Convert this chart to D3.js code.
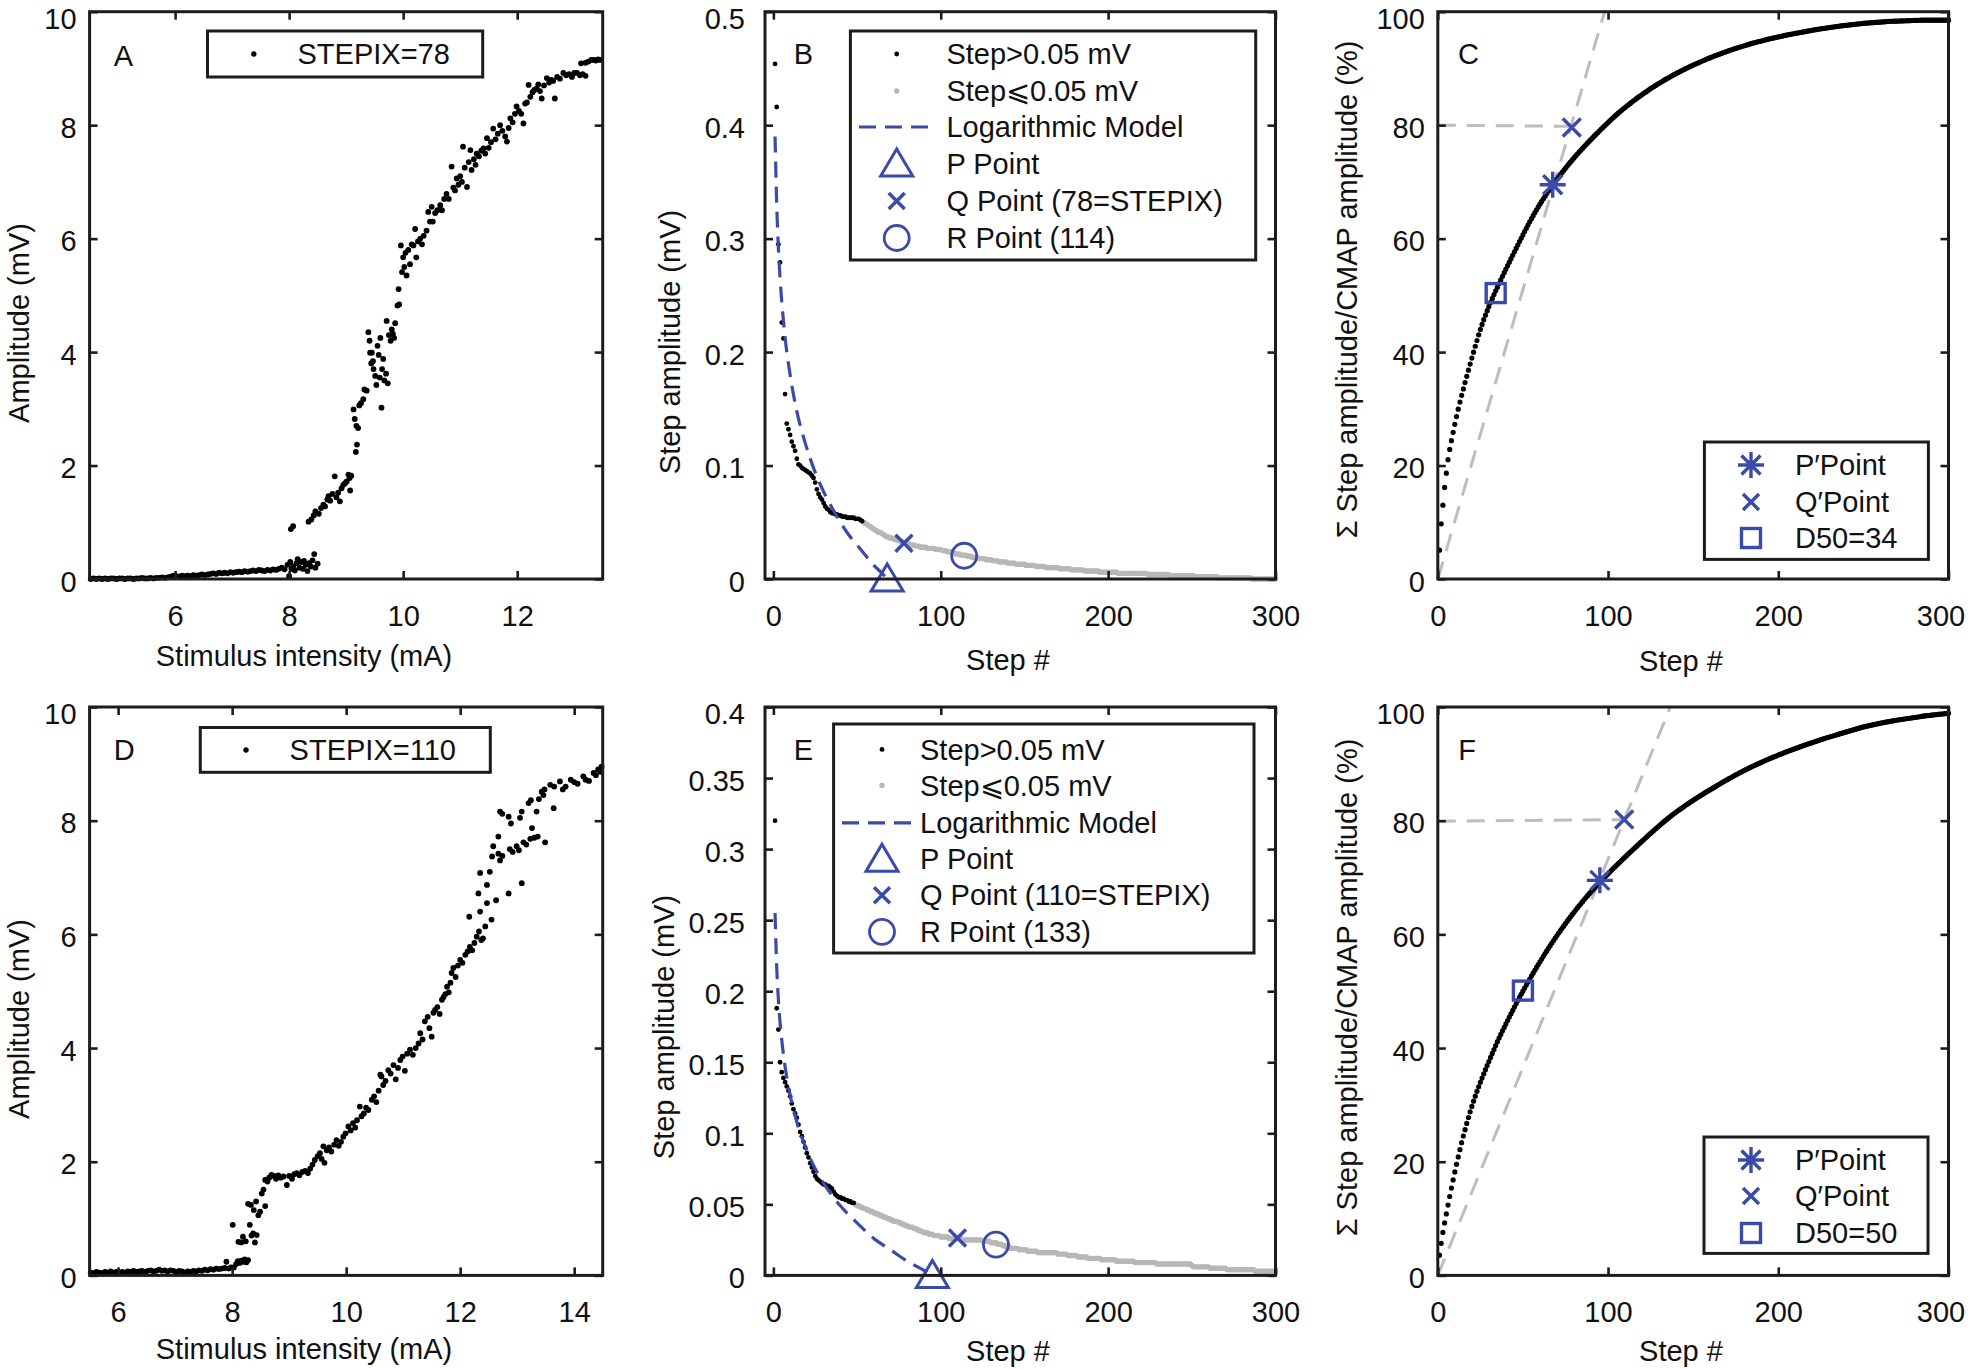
<!DOCTYPE html>
<html><head><meta charset="utf-8">
<script src="https://cdn.jsdelivr.net/npm/d3@7"></script>
<style>body{margin:0;background:#fff}</style>
</head><body>
<svg id="c" width="1969" height="1369" xmlns="http://www.w3.org/2000/svg"></svg>
<script>
// ---------------- DATA ----------------
const scatterA = [[4.52,0.00],[4.57,0.01],[4.62,0.00],[4.67,0.01],[4.72,0.00],[4.77,0.01],[4.82,0.00],[4.87,0.01],[4.92,0.01],[4.97,0.00],[5.02,0.01],[5.07,0.01],[5.12,0.00],[5.17,0.01],[5.22,0.01],[5.27,0.00],[5.32,0.01],[5.37,0.01],[5.42,0.02],[5.47,0.01],[5.52,0.01],[5.57,0.02],[5.62,0.01],[5.67,0.02],[5.72,0.02],[5.77,0.03],[5.82,0.02],[5.87,0.03],[5.92,0.04],[5.97,0.06],[6.02,0.05],[6.07,0.04],[6.12,0.06],[6.17,0.05],[6.22,0.06],[6.27,0.05],[6.32,0.07],[6.37,0.06],[6.42,0.07],[6.47,0.08],[6.52,0.07],[6.57,0.08],[6.62,0.09],[6.67,0.10],[6.72,0.09],[6.77,0.11],[6.82,0.10],[6.87,0.11],[6.92,0.10],[6.97,0.12],[7.02,0.11],[7.07,0.12],[7.12,0.13],[7.17,0.12],[7.22,0.14],[7.27,0.13],[7.32,0.14],[7.37,0.15],[7.42,0.14],[7.47,0.16],[7.52,0.15],[7.57,0.14],[7.62,0.16],[7.67,0.15],[7.72,0.17],[7.77,0.16],[7.82,0.18],[7.87,0.20],[7.92,0.17],[7.97,0.25],
[8.00,0.05],[8.02,0.30],[8.04,0.18],[8.07,0.22],[8.10,0.15],[8.13,0.28],[8.15,0.35],[8.18,0.20],[8.21,0.30],[8.24,0.18],[8.26,0.32],[8.29,0.25],[8.32,0.14],[8.35,0.28],[8.38,0.22],[8.41,0.33],[8.44,0.44],[8.46,0.20],[8.50,0.27],
[8.03,0.88],[8.07,0.93],[8.34,1.01],[8.39,1.05],[8.43,1.12],[8.46,1.19],[8.52,1.15],[8.56,1.25],[8.60,1.31],[8.63,1.28],[8.67,1.40],[8.69,1.46],[8.72,1.38],[8.76,1.50],[8.80,1.81],[8.83,1.44],[8.86,1.52],[8.89,1.37],[8.92,1.60],[8.95,1.66],[8.98,1.69],[9.01,1.72],[9.04,1.84],[9.06,1.78],[9.07,1.56],[9.09,1.82],
[9.17,2.24],[9.19,2.37],[9.13,2.99],[9.15,2.82],[9.18,2.70],[9.21,2.66],[9.23,3.06],[9.26,3.10],[9.30,3.17],[9.32,3.34],[9.36,3.32],
[9.39,4.35],[9.41,4.20],[9.42,3.99],[9.44,3.80],[9.45,3.99],[9.47,3.84],[9.48,3.70],[9.51,3.58],[9.53,3.42],[9.55,4.11],[9.57,3.95],[9.59,3.55],[9.60,4.25],[9.62,3.02],[9.63,3.70],[9.65,3.88],[9.67,3.50],[9.70,3.62],[9.71,4.55],[9.73,3.45],[9.75,4.30],[9.78,4.20],[9.80,4.40],[9.82,4.32],[9.84,4.25],[9.86,4.51],
[9.90,4.82],[9.92,5.11],[9.93,4.84],[9.96,5.88],[9.98,5.41],[10.00,5.67],[10.02,5.50],[10.04,5.75],[10.06,5.35],[10.09,5.80],[10.12,5.55],[10.15,5.90],[10.18,5.88],[10.21,6.17],[10.23,5.67],[10.26,5.95],[10.30,6.00],[10.33,5.90],[10.36,6.05],[10.41,6.14],[10.44,6.47],[10.47,6.30],[10.50,6.56],[10.52,6.30],[10.56,6.45],[10.60,6.50],[10.65,6.59],[10.68,6.50],[10.72,6.70],[10.76,6.79],[10.80,6.70],[10.85,7.27],[10.88,6.90],[10.91,6.85],[10.94,7.06],[10.97,6.95],[11.00,7.10],[11.03,7.00],[11.05,7.62],[11.08,7.25],[11.12,6.91],[11.15,7.35],[11.18,7.56],[11.20,7.21],[11.24,7.40],[11.27,7.30],[11.29,7.50],[11.33,7.45],[11.37,7.55],[11.41,7.59],[11.44,7.50],[11.47,7.77],[11.50,7.60],[11.54,7.70],[11.58,7.94],[11.62,7.75],[11.66,7.85],[11.70,8.00],[11.74,7.90],[11.79,7.80],[11.82,7.71],[11.85,7.95],[11.88,8.12],[11.92,8.05],[11.96,8.20],[11.99,8.33],[12.03,8.25],[12.07,8.20],[12.11,8.03],[12.14,8.38],[12.17,8.40],[12.20,8.71],[12.23,8.50],[12.27,8.58],[12.30,8.62],[12.34,8.65],[12.37,8.72],[12.40,8.60],[12.43,8.47],[12.47,8.70],[12.52,8.83],[12.56,8.75],[12.60,8.80],[12.63,8.78],[12.66,8.47],[12.70,8.85],[12.75,8.82],[12.81,8.92],[12.86,8.88],[12.91,8.90],[12.96,8.85],[13.00,8.92],[13.05,8.92],[13.10,8.88],[13.15,8.90],[13.20,8.87],[13.12,9.09],[13.20,9.10],[13.25,9.12],[13.30,9.15],[13.34,9.15],[13.38,9.14],[13.42,9.16],[13.46,9.15]];

const scatterD = [[5.52,0.05],[5.57,0.04],[5.62,0.06],[5.67,0.05],[5.72,0.04],[5.77,0.06],[5.82,0.05],[5.87,0.07],[5.92,0.05],[5.97,0.06],[6.02,0.04],[6.07,0.06],[6.12,0.05],[6.17,0.07],[6.22,0.06],[6.27,0.08],[6.32,0.06],[6.37,0.07],[6.42,0.08],[6.47,0.06],[6.52,0.08],[6.57,0.09],[6.62,0.07],[6.67,0.08],[6.72,0.10],[6.77,0.08],[6.82,0.09],[6.87,0.07],[6.92,0.09],[6.97,0.08],[7.02,0.06],[7.07,0.08],[7.12,0.07],[7.17,0.05],[7.22,0.07],[7.27,0.06],[7.32,0.08],[7.37,0.07],[7.42,0.09],[7.47,0.08],[7.52,0.10],[7.57,0.09],[7.62,0.11],[7.67,0.10],[7.72,0.12],[7.77,0.11],[7.82,0.12],[7.87,0.13],[7.90,0.24],[7.94,0.12],[7.98,0.14],[8.01,0.89],[8.03,0.14],[8.07,0.20],[8.10,0.25],[8.13,0.22],[8.16,0.26],[8.19,0.24],[8.22,0.28],[8.25,0.23],[8.28,0.27],
[8.11,0.59],[8.16,0.58],[8.19,0.68],[8.24,0.60],[8.31,0.89],[8.34,0.70],[8.37,0.74],[8.40,0.58],[8.43,0.71],[8.28,1.26],[8.33,1.24],[8.38,1.15],[8.42,1.30],[8.46,1.06],[8.49,1.12],[8.52,1.44],[8.55,1.51],[8.58,1.22],[8.58,1.68],[8.62,1.65],[8.65,1.72],[8.69,1.77],[8.73,1.75],[8.77,1.70],[8.81,1.76],[8.85,1.72],[8.90,1.74],[8.96,1.59],[9.00,1.75],[9.05,1.70],[9.09,1.78],[9.13,1.80],[9.18,1.76],[9.23,1.82],[9.28,1.84],[9.33,1.80],[9.37,1.88],[9.41,1.95],[9.45,2.03],[9.50,2.10],[9.54,2.15],[9.57,2.05],[9.60,2.27],[9.62,1.98],[9.66,2.20],[9.70,2.25],[9.74,2.18],[9.79,2.30],[9.83,2.38],[9.87,2.28],[9.91,2.35],[9.95,2.44],[9.99,2.50],[10.04,2.62],[10.08,2.55],[10.12,2.68],[10.16,2.60],[10.19,2.73],[10.24,2.97],[10.27,2.80],[10.31,2.85],[10.35,2.95],[10.39,2.91],[10.45,3.09],[10.49,3.15],[10.53,3.05],[10.57,3.25],[10.62,3.50],[10.60,3.53],[10.65,3.35],[10.69,3.42],[10.74,3.61],[10.78,3.55],[10.83,3.70],[10.87,3.45],[10.91,3.65],[10.95,3.79],[10.99,3.85],[11.03,3.60],[11.07,3.90],[11.12,3.97],[11.17,3.88],[11.22,4.00],[11.27,4.08],[11.30,4.26],[11.34,4.15],[11.38,4.47],[11.43,4.55],[11.46,4.35],[11.50,4.20],[11.53,4.62],[11.56,4.67],[11.60,4.72],[11.64,4.60],[11.68,4.85],[11.71,4.90],[11.74,4.95],[11.77,5.08],[11.80,4.98],[11.83,5.15],[11.85,5.32],[11.88,5.41],[11.92,5.25],[11.96,5.45],[12.00,5.55],[12.04,5.50],[12.09,5.64],[12.13,5.70],[12.17,5.78],[12.21,5.72],[12.25,5.85],[12.29,5.96],[12.33,6.05],[12.37,5.90],[12.40,5.93],[12.44,6.14],[12.16,6.31],[12.35,6.40],[12.47,6.55],[12.55,6.26],[12.32,6.72],[12.63,6.60],[12.47,6.87],[12.35,7.08],[12.52,7.10],[12.67,7.72],[12.58,7.55],[12.56,7.37],[12.67,7.42],[12.70,7.30],[12.74,7.38],[12.85,6.72],[12.87,7.50],[12.92,7.45],[12.99,7.55],[13.03,7.48],[13.08,6.90],[13.11,7.62],[13.16,7.58],[13.23,7.68],[13.26,7.87],[13.30,7.70],[13.36,7.72],[13.49,7.62],[12.70,8.16],[12.74,8.12],[12.85,8.07],[12.89,7.95],[13.08,8.16],[13.05,8.05],[13.20,8.31],[13.24,8.36],[13.34,8.16],[13.38,8.38],[13.43,8.51],[13.48,8.55],[13.46,8.45],[13.64,8.22],[13.58,8.63],[13.65,8.60],[13.75,8.69],[13.80,8.55],[13.85,8.60],[13.94,8.72],[14.00,8.68],[14.06,8.65],[14.16,8.78],[14.20,8.72],[14.26,8.70],[14.34,8.84],[14.38,8.80],[14.42,8.90],[14.46,8.86],[14.48,8.95]];

// Step amplitudes (mV), sorted, step # = index + 1
const stepsB = [0.454,0.416,0.295,0.279,0.226,0.212,0.163,
0.137,0.132,0.127,0.121,0.117,0.113,0.106,0.101,0.100,0.098,0.097,0.096,0.095,0.094,0.093,0.091,0.089,0.085,0.079,0.075,0.072,0.070,0.067,0.064,0.062,0.061,0.059,
0.058,0.058,0.057,0.057,0.056,0.056,0.055,0.055,0.055,0.054,0.054,0.054,0.054,0.054,0.053,0.053,0.053,0.052,0.051,
0.050,0.049,0.048,0.047,0.046,0.045,0.044,0.043,0.042,0.041,0.041,0.040,0.039,0.038,0.037,0.037,0.036,0.036,0.035,0.035,
0.034,0.034,0.033,0.033,0.032,0.032,0.031,0.031,0.030,0.030,0.030,0.029,0.029,0.029,0.028,0.028,0.028,0.028,0.027,0.027,
0.027,0.027,0.027,0.026,0.026,0.026,0.026,
0.025,0.025,0.025,0.024,0.024,0.024,0.023,0.023,0.022,0.022,0.022,0.021,0.021,0.021,0.021,0.020,0.020,0.020,0.019,0.019,
0.019,0.019,0.018,0.018,0.018,0.018,0.017,0.017,0.017,0.017,0.016,0.016,0.016,0.016,0.015,0.015,0.015,0.015,0.015,0.014,
0.014,0.014,0.014,0.014,0.013,0.013,0.013,0.013,0.013,0.013,
0.012,0.012,0.012,0.012,0.012,0.012,0.011,0.011,0.011,0.011,0.011,0.011,0.010,0.010,0.010,0.010,0.010,0.010,0.010,0.010,
0.009,0.009,0.009,0.009,0.009,0.009,0.009,0.008,0.008,0.008,0.008,0.008,0.008,0.008,0.008,0.007,0.007,0.007,0.007,0.007,
0.007,0.007,0.007,0.007,0.006,0.006,0.006,0.006,0.006,0.006,
0.006,0.006,0.006,0.006,0.006,0.005,0.005,0.005,0.005,0.005,0.005,0.005,0.005,0.005,0.005,0.005,0.005,0.005,0.005,0.005,
0.005,0.005,0.005,0.004,0.004,0.004,0.004,0.004,0.004,0.004,0.004,0.004,0.004,0.004,0.004,0.004,0.003,0.003,0.003,0.003,
0.003,0.003,0.003,0.003,0.003,0.003,0.003,0.003,0.003,0.003,
0.003,0.002,0.002,0.002,0.002,0.002,0.002,0.002,0.002,0.002,0.002,0.002,0.002,0.002,0.002,0.001,0.001,0.001,0.001,0.001,
0.001,0.001,0.001,0.001,0.001,0.001,0.001,0.001,0.001,0.001,0.001,0.001,0.001,0.001,0.001,0.000,0.000,0.000,0.000,0.000,
0.000,0.000,0.000,0.000,0.000,0.000,0.000,0.000,0.000,0.000];

const stepsE = [0.320,0.188,0.173,0.150,0.143,0.139,0.136,0.133,0.130,0.126,
0.121,0.117,0.114,0.111,0.106,0.101,0.098,0.094,0.090,0.086,
0.083,0.079,0.076,0.073,0.070,0.068,0.067,0.066,0.065,0.064,
0.064,0.063,0.063,0.062,0.061,0.059,0.057,0.056,0.055,0.055,
0.054,0.054,0.053,0.053,0.052,0.052,0.051,0.051,
0.050,0.049,0.049,0.048,0.048,0.047,0.047,0.046,0.046,0.045,0.045,0.044,
0.044,0.043,0.043,0.042,0.042,0.041,0.041,0.040,0.040,0.039,0.039,0.038,0.038,0.038,0.037,
0.037,0.036,0.036,0.035,0.035,0.034,0.034,0.034,0.033,0.033,0.032,0.032,0.031,0.031,0.030,
0.030,0.030,0.029,0.029,0.029,0.028,0.028,0.028,0.028,0.027,0.027,0.027,0.027,0.027,0.026,0.026,0.026,0.026,0.026,0.026,
0.026,0.026,0.025,0.025,0.025,0.025,0.025,0.025,0.025,0.025,0.025,0.025,0.025,0.025,0.024,0.024,0.024,0.024,0.024,0.023,0.023,0.023,0.023,0.022,0.022,
0.022,0.021,0.021,0.020,0.020,0.020,0.019,0.019,0.019,0.019,0.019,0.018,0.018,0.018,0.018,0.018,0.017,0.017,0.017,0.017,0.017,0.017,0.016,0.016,0.016,
0.016,0.016,0.016,0.016,0.016,0.016,0.016,0.016,0.016,0.015,0.015,0.015,0.015,0.015,0.015,0.014,0.014,0.014,0.014,0.014,
0.014,0.013,0.013,0.013,0.013,0.013,0.013,0.012,0.012,0.012,0.012,0.012,0.012,0.012,0.012,0.011,0.011,0.011,0.011,0.011,
0.011,0.011,0.011,0.011,0.010,0.010,0.010,0.010,0.010,0.010,0.010,0.010,0.010,0.010,0.010,0.009,0.009,0.009,0.009,0.009,
0.009,0.009,0.009,0.009,0.009,0.009,0.009,0.009,0.008,0.008,0.008,0.008,0.008,0.008,0.008,0.008,0.008,0.008,0.008,0.008,
0.008,0.008,0.008,0.008,0.008,0.008,0.008,0.008,0.008,0.007,
0.006,0.006,0.006,0.006,0.006,0.006,0.006,0.006,0.006,0.006,0.005,0.005,0.005,0.005,0.005,0.005,0.005,0.005,0.005,0.005,
0.004,0.004,0.004,0.004,0.004,0.004,0.004,0.004,0.004,0.004,0.004,0.004,0.004,0.004,0.004,0.004,0.004,0.003,0.003,0.003,
0.003,0.003,0.003,0.003,0.003,0.003,0.003,0.003,0.003,0.003];

const stepThreshold = 0.05;      // mV
const cmapB = 8.95, cmapE = 9.0; // CMAP amplitude (mV) used for normalisation

// Logarithmic model [step, mV]
const modelB = [[1,0.390],[2,0.330],[3,0.292],[4,0.265],[5,0.245],[7,0.213],[10,0.180],[14,0.148],[19,0.120],[25,0.094],[30,0.077],[35,0.063],[40,0.050],[45,0.039],[50,0.030],[55,0.021],[60,0.012],[65,0.005],[68,0.0]];
const modelE = [[1,0.255],[2,0.217],[3,0.194],[5,0.166],[7,0.147],[10,0.127],[14,0.108],[20,0.088],[25,0.075],[30,0.065],[40,0.049],[50,0.037],[60,0.026],[70,0.018],[80,0.010],[90,0.0035],[95,0.0]];

// Marker points: P, Q, R (panels B/E) ; P', Q', D50 (panels C/F)
const markB = [[68,0],[78,0.0315],[114,0.0205]];
const markE = [[95,0],[110,0.0263],[133,0.0217]];
const markC = [[67.5,69.5],[78.7,79.6],[34,50.4]];
const markF = [[95.2,69.5],[109.5,80.2],[50,50.1]];
const tangentC = [[0,0],[98,100]], levelC = [[0,80],[78.7,79.8]];
const tangentF = [[0,0],[136.6,100]], levelF = [[0,79.9],[109.5,80.2]];

// Tick values
const ticksAx = [6,8,10,12], ticksDx = [6,8,10,12,14], ticksAmp = [0,2,4,6,8,10];
const ticksStep = [0,100,200,300];
const ticksBy = [0,0.1,0.2,0.3,0.4,0.5];
const ticksEy = [0,0.05,0.1,0.15,0.2,0.25,0.3,0.35,0.4];
const ticksPct = [0,20,40,60,80,100];

// Text
const legendA = ["STEPIX=78"], legendD = ["STEPIX=110"];
const legendB = ["Step>0.05 mV","Step\u2A7D0.05 mV","Logarithmic Model","P Point","Q Point (78=STEPIX)","R Point (114)"];
const legendE = ["Step>0.05 mV","Step\u2A7D0.05 mV","Logarithmic Model","P Point","Q Point (110=STEPIX)","R Point (133)"];
const legendC = ["P\u2032Point","Q\u2032Point","D50=34"];
const legendF = ["P\u2032Point","Q\u2032Point","D50=50"];

// ---------------- DRAWING ----------------
const FONT = '"Liberation Sans", Arial, Helvetica, sans-serif';
const INK = '#1c1c1c', BLUE = '#3a4aa8', LGRAY = '#b7b7b7', DGRAY = '#bdbdbd';
const FS = 29;
const svg = d3.select('#c');
svg.append('rect').attr('width',1969).attr('height',1369).attr('fill','#fff');

function makePanel(box, xd, yd) {
  const x = d3.scaleLinear().domain(xd).range([box.l, box.r]);
  const y = d3.scaleLinear().domain(yd).range([box.b, box.t]);
  return {x, y, box, g: svg.append('g')};
}
function frame(P, xt, yt, ypad, letter, lpos, xl, xlpos, yl, ylpos, lastShift) {
  const {x, y, box} = P;
  const g = svg.append('g');
  const style = a => {
    a.select('.domain').remove();
    a.selectAll('line').attr('stroke', INK).attr('stroke-width', 2.6);
    a.selectAll('text').attr('font-family', FONT).attr('font-size', FS).attr('fill', '#111');
  };
  const fmt = d3.format('~g');
  const bx = g.append('g').attr('transform', `translate(0,${box.b})`).call(d3.axisBottom(x).tickValues(xt).tickSize(-8).tickPadding(26).tickFormat(fmt)).call(style);
  if (lastShift) bx.selectAll('.tick:last-of-type text').attr('x', -lastShift);
  g.append('g').attr('transform', `translate(0,${box.t})`).call(d3.axisTop(x).tickValues(xt).tickSize(-8).tickFormat('')).call(style);
  const ly = g.append('g').attr('transform', `translate(${box.l},0)`).call(d3.axisLeft(y).tickValues(yt).tickSize(-8).tickPadding(ypad).tickFormat(fmt)).call(style);
  ly.selectAll('text').attr('dy', '0.42em');
  ly.selectAll('.tick:last-of-type text').attr('dy', '0.58em');
  g.append('g').attr('transform', `translate(${box.r},0)`).call(d3.axisRight(y).tickValues(yt).tickSize(-8).tickFormat('')).call(style);
  g.append('rect').attr('x', box.l).attr('y', box.t).attr('width', box.r - box.l).attr('height', box.b - box.t)
    .attr('fill', 'none').attr('stroke', INK).attr('stroke-width', 3);
  const t = (s, px, py, rot) => g.append('text').attr('font-family', FONT).attr('font-size', FS).attr('fill', '#111')
      .attr('text-anchor', 'middle').attr('dy', '0.35em')
      .attr('transform', rot ? `translate(${px},${py}) rotate(-90)` : `translate(${px},${py})`).text(s);
  t(letter, lpos[0], lpos[1]);
  t(xl, xlpos[0], xlpos[1]);
  t(yl, ylpos[0], ylpos[1], true);
}

// marker helpers
function tri(g, cx, cy) { g.append('path').attr('d', `M${cx},${cy-15}L${cx+16},${cy+12}L${cx-16},${cy+12}Z`).attr('fill','none').attr('stroke',BLUE).attr('stroke-width',3); }
function cross(g, cx, cy, h) { g.append('path').attr('d', `M${cx-h},${cy-h}L${cx+h},${cy+h}M${cx-h},${cy+h}L${cx+h},${cy-h}`).attr('stroke',BLUE).attr('stroke-width',3.4); }
function circ(g, cx, cy) { g.append('circle').attr('cx',cx).attr('cy',cy).attr('r',12.5).attr('fill','none').attr('stroke',BLUE).attr('stroke-width',2.8); }
function star(g, cx, cy) { const h=13, d=9.5; g.append('path').attr('d', `M${cx-h},${cy}L${cx+h},${cy}M${cx},${cy-h}L${cx},${cy+h}M${cx-d},${cy-d}L${cx+d},${cy+d}M${cx-d},${cy+d}L${cx+d},${cy-d}`).attr('stroke',BLUE).attr('stroke-width',3.4); }
function square(g, cx, cy) { g.append('rect').attr('x',cx-9.5).attr('y',cy-9.5).attr('width',19).attr('height',19).attr('fill','none').attr('stroke',BLUE).attr('stroke-width',3.4); }

function legendBox(box) {
  svg.append('rect').attr('x', box[0]).attr('y', box[1]).attr('width', box[2]-box[0]).attr('height', box[3]-box[1])
    .attr('fill', '#fff').attr('stroke', INK).attr('stroke-width', 3);
}
function ltext(s, x, y) {
  svg.append('text').attr('x', x).attr('y', y).attr('dy', '0.35em').attr('font-family', FONT).attr('font-size', FS).attr('fill', '#111').text(s);
}

// ---- Scatter panels (A, D)
function scatterPanel(box, xd, data, xt, letter, lpos, xlpos, ylpos, leg, legBox, legDot, legTxt) {
  const P = makePanel(box, xd, [0, 10]);
  P.g.selectAll('circle').data(data).join('circle')
    .attr('cx', d => P.x(d[0])).attr('cy', d => P.y(d[1])).attr('r', 2.9).attr('fill', '#000');
  frame(P, xt, ticksAmp, 13, letter, lpos, 'Stimulus intensity (mA)', xlpos, 'Amplitude (mV)', ylpos);
  legendBox(legBox);
  svg.append('circle').attr('cx', legDot[0]).attr('cy', legDot[1]).attr('r', 2.7).attr('fill', '#000');
  ltext(leg[0], legTxt, legDot[1]);
}
scatterPanel({l:89.6, r:602.7, t:11.7, b:579}, [4.5, 13.5], scatterA, ticksAx, 'A', [123.3,55.5], [304,656], [19,323],
  legendA, [207.5,31,482.7,77], [253.8,54], 297.5);
scatterPanel({l:89.6, r:602.7, t:707, b:1275.4}, [5.5, 14.5], scatterD, ticksDx, 'D', [124.2,749.4], [304,1349], [19,1019],
  legendD, [200.3,727.5,490.3,772.3], [246,750], 289.6);

// ---- Step panels (B, E)
function stepPanel(box, yd, steps, model, mark, yt, letter, lpos, xlpos, ylpos, leg, legBox, rows, symX, dashX, txtX) {
  const P = makePanel(box, [-5, 300], yd);
  const pts = steps.map((v, i) => [i + 1, v]);
  P.g.append('g').selectAll('circle').data(pts.filter(d => d[1] <= stepThreshold)).join('circle')
    .attr('cx', d => P.x(d[0])).attr('cy', d => P.y(d[1])).attr('r', 2.7).attr('fill', LGRAY);
  P.g.append('g').selectAll('circle').data(pts.filter(d => d[1] > stepThreshold)).join('circle')
    .attr('cx', d => P.x(d[0])).attr('cy', d => P.y(d[1])).attr('r', 2.4).attr('fill', '#000');
  P.g.append('path').datum(model).attr('fill', 'none').attr('stroke', BLUE).attr('stroke-width', 3.2)
    .attr('stroke-dasharray', '16,9')
    .attr('d', d3.line().x(d => P.x(d[0])).y(d => P.y(d[1])).curve(d3.curveMonotoneX));
  tri(P.g, P.x(mark[0][0]), P.y(mark[0][1]));
  cross(P.g, P.x(mark[1][0]), P.y(mark[1][1]), 8.5);
  circ(P.g, P.x(mark[2][0]), P.y(mark[2][1]));
  frame(P, ticksStep, yt, 20, letter, lpos, 'Step #', xlpos, 'Step amplitude (mV)', ylpos);
  legendBox(legBox);
  svg.append('circle').attr('cx', symX).attr('cy', rows[0]).attr('r', 2.4).attr('fill', '#000');
  svg.append('circle').attr('cx', symX).attr('cy', rows[1]).attr('r', 2.7).attr('fill', LGRAY);
  svg.append('line').attr('x1', dashX[0]).attr('x2', dashX[1]).attr('y1', rows[2]).attr('y2', rows[2])
    .attr('stroke', BLUE).attr('stroke-width', 3.2).attr('stroke-dasharray', '17,9');
  const lg = svg.append('g');
  tri(lg, symX, rows[3]); cross(lg, symX, rows[4], 8); circ(lg, symX, rows[5]);
  leg.forEach((s, i) => ltext(s, txtX, rows[i]));
}
stepPanel({l:765, r:1275.5, t:11.7, b:579}, [0, 0.5], stepsB, modelB, markB, ticksBy, 'B', [803.3,54.2], [1008,660], [670,342],
  legendB, [850.4,31,1255.7,260], [54,91,127,164,201,238], 896.7, [859,934.6], 946.4);
stepPanel({l:765, r:1275.5, t:707, b:1275.4}, [0, 0.4], stepsE, modelE, markE, ticksEy, 'E', [803.3,749.4], [1008,1351], [664,1027],
  legendE, [833.6,724,1254,953], [749.4,785.4,822.8,859.3,895.3,931.8], 882, [842,918], 920);

// ---- Cumulative panels (C, F)
function cumPanel(box, steps, cmap, mark, tangent, level, letter, lpos, xlpos, ylpos, leg, legBox, rows, symX, txtX) {
  const P = makePanel(box, [0, 300], [0, 100]);
  const cum = Array.from(d3.cumsum(steps)).map((v, i) => [i + 1, v / cmap * 100]);
  const ln = d3.line().x(d => P.x(d[0])).y(d => P.y(d[1]));
  P.g.append('path').datum(tangent).attr('d', ln).attr('stroke', DGRAY).attr('stroke-width', 3).attr('stroke-dasharray', '18,11').attr('fill','none');
  P.g.append('path').datum(level).attr('d', ln).attr('stroke', DGRAY).attr('stroke-width', 3).attr('stroke-dasharray', '18,11').attr('fill','none');
  P.g.append('g').selectAll('circle').data(cum).join('circle')
    .attr('cx', d => P.x(d[0])).attr('cy', d => P.y(d[1])).attr('r', 2.6).attr('fill', '#000');
  star(P.g, P.x(mark[0][0]), P.y(mark[0][1]));
  cross(P.g, P.x(mark[1][0]), P.y(mark[1][1]), 9);
  square(P.g, P.x(mark[2][0]), P.y(mark[2][1]));
  frame(P, ticksStep, ticksPct, 13, letter, lpos, 'Step #', xlpos, '\u03A3 Step amplitude/CMAP amplitude (%)', ylpos, 8);
  legendBox(legBox);
  const lg = svg.append('g');
  star(lg, symX, rows[0]); cross(lg, symX, rows[1], 8); square(lg, symX, rows[2]);
  leg.forEach((s, i) => ltext(s, txtX, rows[i]));
}
cumPanel({l:1437.8, r:1948.5, t:11.7, b:579}, stepsB, cmapB, markC, tangentC, levelC, 'C', [1468.5,54.2], [1681,661], [1347,289.5],
  legendC, [1704.4,442,1928.4,559.4], [465,502,538], 1751, 1795);
cumPanel({l:1437.8, r:1948.5, t:707, b:1275.4}, stepsE, cmapE, markF, tangentF, levelF, 'F', [1467.2,749.4], [1681,1351], [1347,987.5],
  legendF, [1704,1137,1928,1253.4], [1160,1196,1233], 1751, 1795);
</script>
</body></html>
